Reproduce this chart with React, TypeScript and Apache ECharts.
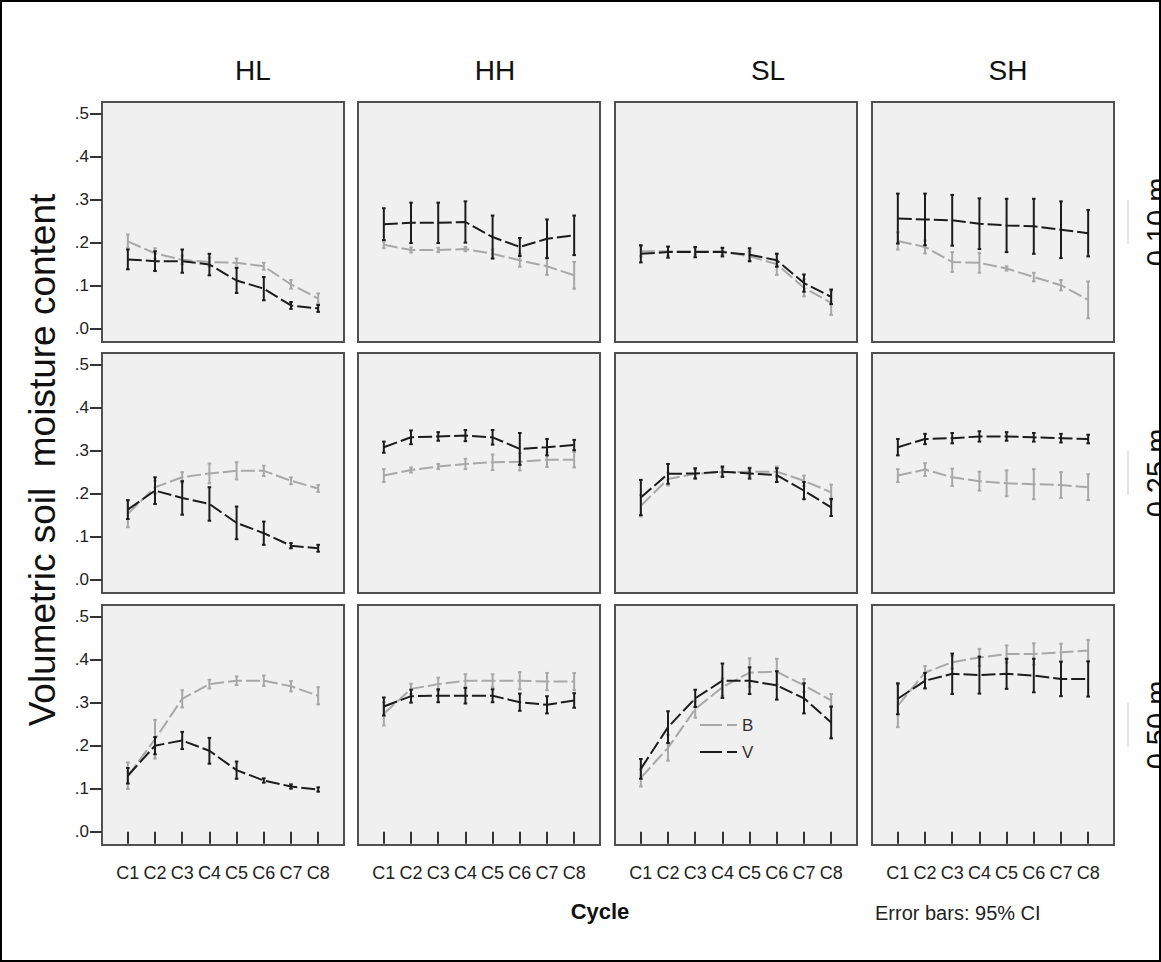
import React, { useEffect, useRef } from "react";
import * as echarts from "echarts";

const cycles = ["C1", "C2", "C3", "C4", "C5", "C6", "C7", "C8"];
const sites = ["HL", "HH", "SL", "SH"];
const depths = ["0.10 m", "0.25 m", "0.50 m"];
const yTicks = [0, 0.1, 0.2, 0.3, 0.4, 0.5];

// Each array: rows = sites (HL, HH, SL, SH), columns = cycles C1..C8
const bMean010 = [
  [0.203, 0.175, 0.16, 0.155, 0.153, 0.145, 0.103, 0.07],
  [0.195, 0.183, 0.183, 0.185, 0.174, 0.159, 0.145, 0.124],
  [0.18, 0.18, 0.18, 0.18, 0.168, 0.15, 0.095, 0.06],
  [0.204, 0.19, 0.155, 0.153, 0.14, 0.12, 0.101, 0.067],
];
const bErr010 = [
  [0.016, 0.012, 0.01, 0.01, 0.01, 0.008, 0.01, 0.012],
  [0.008, 0.006, 0.005, 0.005, 0.01, 0.015, 0.02, 0.031],
  [0.012, 0.01, 0.008, 0.008, 0.012, 0.025, 0.02, 0.028],
  [0.02, 0.015, 0.023, 0.023, 0.005, 0.01, 0.012, 0.043],
];
const vMean010 = [
  [0.161, 0.157, 0.157, 0.149, 0.112, 0.093, 0.054, 0.047],
  [0.243, 0.246, 0.246, 0.248, 0.213, 0.19, 0.209, 0.217],
  [0.174, 0.178, 0.178, 0.178, 0.172, 0.159, 0.106, 0.074],
  [0.256, 0.254, 0.252, 0.244, 0.24, 0.238, 0.23, 0.222],
];
const vErr010 = [
  [0.023, 0.023, 0.027, 0.025, 0.029, 0.027, 0.008, 0.008],
  [0.037, 0.047, 0.047, 0.048, 0.05, 0.021, 0.045, 0.046],
  [0.02, 0.013, 0.012, 0.01, 0.015, 0.015, 0.02, 0.017],
  [0.058, 0.06, 0.059, 0.059, 0.062, 0.064, 0.066, 0.054],
];

const bMean025 = [
  [0.153, 0.215, 0.238, 0.247, 0.253, 0.253, 0.23, 0.212],
  [0.242, 0.255, 0.263, 0.269, 0.273, 0.274, 0.279, 0.279],
  [0.172, 0.234, 0.246, 0.25, 0.251, 0.251, 0.23, 0.203],
  [0.242, 0.256, 0.238, 0.229, 0.224, 0.222, 0.22, 0.215],
];
const bErr025 = [
  [0.031, 0.015, 0.012, 0.023, 0.02, 0.012, 0.008, 0.008],
  [0.015, 0.006, 0.006, 0.012, 0.018, 0.02, 0.017, 0.018],
  [0.025, 0.015, 0.01, 0.01, 0.01, 0.012, 0.012, 0.018],
  [0.015, 0.015, 0.02, 0.022, 0.03, 0.035, 0.03, 0.03],
];
const vMean025 = [
  [0.163, 0.207, 0.19, 0.176, 0.132, 0.108, 0.079, 0.073],
  [0.308, 0.331, 0.333, 0.335, 0.331, 0.304, 0.308, 0.313],
  [0.191, 0.246, 0.247, 0.251, 0.247, 0.243, 0.207, 0.168],
  [0.308, 0.327, 0.329, 0.333, 0.333, 0.331, 0.329, 0.327],
];
const vErr025 = [
  [0.022, 0.031, 0.039, 0.039, 0.038, 0.027, 0.006, 0.008],
  [0.013, 0.016, 0.01, 0.013, 0.017, 0.037, 0.019, 0.012],
  [0.041, 0.023, 0.012, 0.012, 0.012, 0.016, 0.02, 0.02],
  [0.019, 0.012, 0.012, 0.012, 0.01, 0.01, 0.01, 0.01],
];

const bMean050 = [
  [0.13, 0.215, 0.309, 0.343, 0.351, 0.351, 0.338, 0.316],
  [0.274, 0.332, 0.343, 0.351, 0.351, 0.351, 0.349, 0.349],
  [0.125, 0.195, 0.285, 0.336, 0.37, 0.372, 0.34, 0.305],
  [0.293, 0.37, 0.394, 0.405, 0.413, 0.413, 0.417, 0.421],
];
const bErr050 = [
  [0.031, 0.045, 0.02, 0.01, 0.01, 0.012, 0.012, 0.02],
  [0.027, 0.012, 0.015, 0.015, 0.015, 0.02, 0.02, 0.02],
  [0.02, 0.03, 0.02, 0.02, 0.033, 0.03, 0.015, 0.015],
  [0.05, 0.015, 0.015, 0.02, 0.02, 0.025, 0.02, 0.025],
];
const vMean050 = [
  [0.13, 0.2, 0.212, 0.188, 0.143, 0.119, 0.105, 0.098],
  [0.291, 0.315, 0.316, 0.316, 0.316, 0.301, 0.295, 0.305],
  [0.146, 0.243, 0.31, 0.351, 0.351, 0.34, 0.31, 0.254],
  [0.309, 0.351, 0.367, 0.364, 0.367, 0.363, 0.355, 0.355],
];
const vErr050 = [
  [0.018, 0.02, 0.02, 0.03, 0.02, 0.005, 0.005, 0.005],
  [0.021, 0.015, 0.015, 0.018, 0.015, 0.02, 0.02, 0.017],
  [0.023, 0.037, 0.02, 0.04, 0.031, 0.033, 0.035, 0.037],
  [0.036, 0.018, 0.047, 0.043, 0.035, 0.039, 0.04, 0.041],
];

const bMeans = [bMean010, bMean025, bMean050];
const bErrs = [bErr010, bErr025, bErr050];
const vMeans = [vMean010, vMean025, vMean050];
const vErrs = [vErr010, vErr025, vErr050];

const FONT = "Arial, 'Liberation Sans', Helvetica, sans-serif";
const colLefts = [102, 358, 615, 872];
const rowTops = [102, 353, 605];
const PW = 242;
const PH = 240;
const B_COLOR = "#a8a8a8";
const V_COLOR = "#1c1c1c";
const titleX = [253, 495, 768, 1008];

function errorBarSeries(idx: number, mean: number[], err: number[], color: string, name: string) {
  return {
    type: "custom",
    name,
    xAxisIndex: idx,
    yAxisIndex: idx,
    silent: true,
    data: mean.map((m, i) => [i + 1, m - err[i], m + err[i]]),
    renderItem: (params: any, api: any) => {
      const x = api.value(0);
      const top = api.coord([x, api.value(2)]);
      const bot = api.coord([x, api.value(1)]);
      const cap = 1.8;
      const st = { stroke: color, lineWidth: 2 };
      return {
        type: "group",
        children: [
          { type: "line", shape: { x1: top[0], y1: top[1], x2: bot[0], y2: bot[1] }, style: st },
          { type: "line", shape: { x1: top[0] - cap, y1: top[1], x2: top[0] + cap, y2: top[1] }, style: st },
          { type: "line", shape: { x1: bot[0] - cap, y1: bot[1], x2: bot[0] + cap, y2: bot[1] }, style: st },
        ],
      };
    },
  };
}

export default function App() {
  const ref = useRef<HTMLDivElement>(null);
  useEffect(() => {
    if (!ref.current) return;
    const chart = echarts.init(ref.current, null, { renderer: "svg" });
    const grids: any[] = [];
    const xAxes: any[] = [];
    const yAxes: any[] = [];
    const series: any[] = [];
    for (let r = 0; r < 3; r++) {
      for (let c = 0; c < 4; c++) {
        const idx = r * 4 + c;
        grids.push({
          left: colLefts[c],
          top: rowTops[r],
          width: PW,
          height: PH,
          show: true,
          backgroundColor: "#f0f0f0",
          borderColor: "#505050",
          borderWidth: 2,
          containLabel: false,
        });
        xAxes.push({
          type: "value",
          gridIndex: idx,
          min: 0.05,
          max: 8.95,
          axisLine: { show: false },
          splitLine: { show: false },
          axisTick: {
            show: r === 2,
            customValues: [1, 2, 3, 4, 5, 6, 7, 8],
            length: 12,
            lineStyle: { color: "#333", width: 2 },
          },
          axisLabel: {
            show: r === 2,
            customValues: [1, 2, 3, 4, 5, 6, 7, 8],
            formatter: (v: number) => cycles[Math.round(v) - 1] || "",
            fontSize: 18,
            fontFamily: FONT,
            color: "#222",
            margin: 19,
          },
        });
        yAxes.push({
          type: "value",
          gridIndex: idx,
          min: -0.031,
          max: 0.527,
          axisLine: { show: false },
          splitLine: { show: false },
          axisTick: {
            show: c === 0,
            customValues: yTicks,
            length: 12,
            lineStyle: { color: "#333", width: 2 },
          },
          axisLabel: {
            show: c === 0,
            customValues: yTicks,
            formatter: (v: number) => "." + Math.round(v * 10),
            fontSize: 17,
            fontFamily: FONT,
            color: "#222",
            margin: 13,
          },
        });
        const bm = bMeans[r][c];
        const vm = vMeans[r][c];
        series.push({
          type: "line",
          name: "B",
          xAxisIndex: idx,
          yAxisIndex: idx,
          data: bm.map((v, i) => [i + 1, v]),
          symbol: "none",
          lineStyle: { color: B_COLOR, width: 2, type: [14, 4] },
          z: 2,
        });
        series.push({ ...errorBarSeries(idx, bm, bErrs[r][c], B_COLOR, "B err"), z: 2 });
        series.push({
          type: "line",
          name: "V",
          xAxisIndex: idx,
          yAxisIndex: idx,
          data: vm.map((v, i) => [i + 1, v]),
          symbol: "none",
          lineStyle: { color: V_COLOR, width: 2, type: [14, 4] },
          z: 3,
        });
        series.push({ ...errorBarSeries(idx, vm, vErrs[r][c], V_COLOR, "V err"), z: 3 });
      }
    }

    const graphics: any[] = [
      {
        type: "rect",
        shape: { x: 1, y: 1, width: 1159, height: 960 },
        style: { fill: "none", stroke: "#000", lineWidth: 2 },
        z: 100,
      },
      ...sites.map((s, i) => ({
        type: "text",
        x: titleX[i],
        y: 70,
        style: { text: s, font: `28px ${FONT}`, fill: "#111", align: "center", verticalAlign: "middle" },
      })),
      ...depths.map((d, i) => ({
        type: "text",
        x: 1157,
        y: rowTops[i] + PH / 2,
        rotation: Math.PI / 2,
        style: { text: d, font: `29px ${FONT}`, fill: "#111", align: "center", verticalAlign: "middle" },
      })),
      ...depths.map((d, i) => ({
        type: "line",
        shape: { x1: 1128, y1: rowTops[i] + PH / 2 - 22, x2: 1128, y2: rowTops[i] + PH / 2 + 22 },
        style: { stroke: "#e4e4e4", lineWidth: 2 },
      })),
      {
        type: "text",
        x: 42,
        y: 460,
        rotation: Math.PI / 2,
        style: {
          text: "Volumetric soil  moisture content",
          font: `37px ${FONT}`,
          fill: "#111",
          align: "center",
          verticalAlign: "middle",
        },
      },
      {
        type: "text",
        x: 600,
        y: 911,
        style: { text: "Cycle", font: `bold 22px ${FONT}`, fill: "#111", align: "center", verticalAlign: "middle" },
      },
      {
        type: "text",
        x: 875,
        y: 913,
        style: { text: "Error bars: 95% CI", font: `20px ${FONT}`, fill: "#222", align: "left", verticalAlign: "middle" },
      },
      {
        type: "line",
        shape: { x1: 700, y1: 725, x2: 737, y2: 725 },
        style: { stroke: B_COLOR, lineWidth: 2, lineDash: [22, 5] },
        z: 50,
      },
      {
        type: "text",
        x: 742,
        y: 725,
        style: { text: "B", font: `17px ${FONT}`, fill: "#333", align: "left", verticalAlign: "middle" },
        z: 50,
      },
      {
        type: "line",
        shape: { x1: 700, y1: 752, x2: 737, y2: 752 },
        style: { stroke: V_COLOR, lineWidth: 2, lineDash: [22, 5] },
        z: 50,
      },
      {
        type: "text",
        x: 742,
        y: 752,
        style: { text: "V", font: `17px ${FONT}`, fill: "#333", align: "left", verticalAlign: "middle" },
        z: 50,
      },
    ];

    chart.setOption({
      animation: false,
      backgroundColor: "#ffffff",
      grid: grids,
      xAxis: xAxes,
      yAxis: yAxes,
      series,
      graphic: graphics,
    });
    return () => chart.dispose();
  }, []);
  return (
    <div
      ref={ref}
      style={{ position: "fixed", left: 0, top: 0, width: 1161, height: 962 }}
    />
  );
}
